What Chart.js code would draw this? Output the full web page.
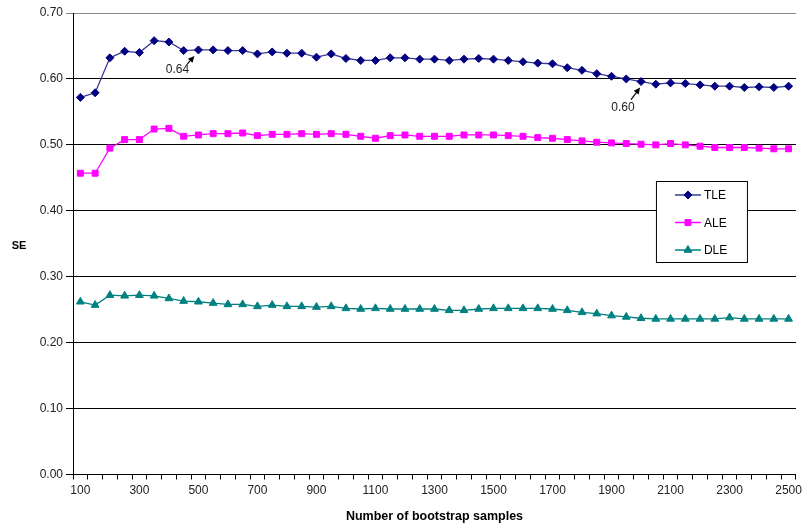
<!DOCTYPE html>
<html>
<head>
<meta charset="utf-8">
<script src="https://cdn.jsdelivr.net/npm/chart.js@4"></script>
<style>
  html, body { margin: 0; padding: 0; background: #fff; }
  #wrap { width: 806px; height: 524px; }
</style>
</head>
<body>
<div id="wrap"><canvas id="myChart" width="806" height="524"></canvas></div>
<script>
// bootstrap sample counts
const samples = [100, 150, 200, 250, 300, 350, 400, 450, 500, 550, 600, 650, 700, 750, 800, 850, 900, 950,
  1000, 1050, 1100, 1150, 1200, 1250, 1300, 1350, 1400, 1450, 1500, 1550, 1600, 1650, 1700, 1750, 1800,
  1850, 1900, 1950, 2000, 2050, 2100, 2150, 2200, 2250, 2300, 2350, 2400, 2450, 2500];

const tle = [0.572, 0.579, 0.632, 0.642, 0.640, 0.658, 0.656, 0.643, 0.644, 0.644, 0.643, 0.643, 0.638,
  0.641, 0.639, 0.639, 0.633, 0.638, 0.631, 0.628, 0.628, 0.632, 0.632, 0.630, 0.630, 0.628, 0.630,
  0.631, 0.630, 0.628, 0.626, 0.624, 0.623, 0.617, 0.613, 0.608, 0.604, 0.600, 0.596, 0.592, 0.594,
  0.593, 0.591, 0.589, 0.589, 0.587, 0.588, 0.587, 0.589];

const ale = [0.457, 0.457, 0.495, 0.508, 0.508, 0.524, 0.525, 0.513, 0.515, 0.517, 0.517, 0.518, 0.514,
  0.516, 0.516, 0.517, 0.516, 0.517, 0.516, 0.513, 0.510, 0.514, 0.515, 0.513, 0.513, 0.513, 0.515,
  0.515, 0.515, 0.514, 0.513, 0.511, 0.510, 0.508, 0.506, 0.504, 0.503, 0.502, 0.501, 0.500, 0.502,
  0.500, 0.498, 0.496, 0.496, 0.496, 0.495, 0.494, 0.494];

const dle = [0.262, 0.257, 0.272, 0.271, 0.272, 0.271, 0.267, 0.263, 0.262, 0.260, 0.258, 0.258, 0.255,
  0.257, 0.255, 0.255, 0.254, 0.255, 0.252, 0.251, 0.252, 0.251, 0.251, 0.251, 0.251, 0.249, 0.249,
  0.251, 0.252, 0.252, 0.252, 0.252, 0.251, 0.249, 0.246, 0.244, 0.241, 0.239, 0.237, 0.236, 0.236,
  0.236, 0.236, 0.236, 0.238, 0.236, 0.236, 0.236, 0.236];

// callouts: [label, sample index on TLE]
const callouts = [["0.64", 8], ["0.60", 38]];

const FONT = "'Liberation Sans', Arial, sans-serif";

// legend box drawn inside the plot, like the original
const boxLegend = {
  id: 'boxLegend',
  afterDraw(chart) {
    const ctx = chart.ctx;
    const area = chart.chartArea;
    const x = area.right - 140, y = area.top + 168, w = 91, h = 81;
    ctx.save();
    ctx.fillStyle = '#fff';
    ctx.fillRect(x, y, w, h);
    ctx.strokeStyle = '#000';
    ctx.lineWidth = 1;
    ctx.strokeRect(x + 0.5, y + 0.5, w, h);
    ctx.font = '12px ' + FONT;
    ctx.textBaseline = 'middle';
    chart.data.datasets.forEach((ds, i) => {
      const cy = y + 14 + i * 27.5;
      ctx.strokeStyle = ds.borderColor;
      ctx.lineWidth = 1.5;
      ctx.beginPath();
      ctx.moveTo(x + 19, cy);
      ctx.lineTo(x + 45, cy);
      ctx.stroke();
      ctx.fillStyle = ds.pointBackgroundColor;
      ctx.strokeStyle = ds.pointBorderColor;
      ctx.lineWidth = 1;
      Chart.helpers.drawPoint(ctx, {
        pointStyle: ds.pointStyle, radius: ds.pointRadius, rotation: 0, borderWidth: 1
      }, x + 32, cy);
      ctx.fillStyle = '#000';
      ctx.textAlign = 'left';
      ctx.fillText(ds.label, x + 48, cy + 1);
    });
    ctx.restore();
  }
};

// arrows + values, and the plain "SE" axis title
const extras = {
  id: 'extras',
  afterDatasetsDraw(chart) {
    const ctx = chart.ctx;
    const xs = chart.scales.x, ys = chart.scales.y;
    ctx.save();
    ctx.font = '12px ' + FONT;
    ctx.textAlign = 'center';
    ctx.textBaseline = 'middle';
    const offs = [
      { tip: [-4, 6], tail: [-11, 14], text: [-21, 20] },
      { tip: [-1, 6], tail: [-10, 18], text: [-18, 26] }
    ];
    callouts.forEach(([lbl, idx], k) => {
      const px = xs.getPixelForValue(idx);
      const py = ys.getPixelForValue(tle[idx]);
      const o = offs[k];
      const tx = px + o.tip[0], ty = py + o.tip[1];
      const sx = px + o.tail[0], sy = py + o.tail[1];
      const ang = Math.atan2(ty - sy, tx - sx);
      ctx.strokeStyle = '#000';
      ctx.fillStyle = '#000';
      ctx.lineWidth = 1.2;
      ctx.beginPath();
      ctx.moveTo(sx, sy);
      ctx.lineTo(tx - 4 * Math.cos(ang), ty - 4 * Math.sin(ang));
      ctx.stroke();
      ctx.beginPath();
      ctx.moveTo(tx, ty);
      ctx.lineTo(tx - 7 * Math.cos(ang - 0.45), ty - 7 * Math.sin(ang - 0.45));
      ctx.lineTo(tx - 7 * Math.cos(ang + 0.45), ty - 7 * Math.sin(ang + 0.45));
      ctx.closePath();
      ctx.fill();
      ctx.fillStyle = '#222';
      ctx.fillText(lbl, px + o.text[0], py + o.text[1]);
    });
    // y title
    ctx.font = 'bold 11px ' + FONT;
    ctx.fillStyle = '#000';
    ctx.fillText('SE', 19, (chart.chartArea.top + chart.chartArea.bottom) / 2 + 2);
    ctx.restore();
  }
};

new Chart(document.getElementById('myChart'), {
  type: 'line',
  data: {
    labels: samples,
    datasets: [
      {
        label: 'TLE', data: tle,
        borderColor: '#3b3b9a', borderWidth: 1.3,
        pointStyle: 'rectRot', pointRadius: 4,
        pointBackgroundColor: '#000080', pointBorderColor: '#000080', pointBorderWidth: 1
      },
      {
        label: 'ALE', data: ale,
        borderColor: '#ff00ff', borderWidth: 1.3,
        pointStyle: 'rect', pointRadius: 4.2,
        pointBackgroundColor: '#ff00ff', pointBorderColor: '#ff00ff', pointBorderWidth: 1
      },
      {
        label: 'DLE', data: dle,
        borderColor: '#008080', borderWidth: 1.3,
        pointStyle: 'triangle', pointRadius: 4.5,
        pointBackgroundColor: '#008080', pointBorderColor: '#008080', pointBorderWidth: 1
      }
    ]
  },
  options: {
    responsive: false,
    animation: false,
    devicePixelRatio: 1,
    layout: { padding: { left: 0, right: 8, top: 13, bottom: 0 } },
    plugins: {
      legend: { display: false },
      tooltip: { enabled: false }
    },
    elements: { line: { tension: 0 } },
    scales: {
      x: {
        type: 'category',
        offset: true,
        grid: {
          offset: true, drawOnChartArea: false, drawTicks: true,
          tickLength: 5, color: '#000'
        },
        border: { color: '#000', width: 1 },
        ticks: {
          autoSkip: false, maxRotation: 0, padding: 4,
          color: '#222', font: { family: FONT, size: 12 },
          callback: (v, i) => (i % 4 === 0 ? samples[i] : '')
        },
        title: {
          display: true, text: 'Number of bootstrap samples',
          color: '#000', font: { family: FONT, size: 12.5, weight: 'bold' },
          padding: { top: 4, bottom: 0 }
        },
        afterFit(scale) { scale.height = 49.5; }
      },
      y: {
        min: 0, max: 0.7,
        grid: {
          color: ctx => (ctx.tick && ctx.tick.value >= 0.7 ? '#888' : '#000'),
          tickLength: 7, lineWidth: 1
        },
        border: { color: '#000', width: 1 },
        ticks: {
          stepSize: 0.1, padding: 3,
          color: '#222', font: { family: FONT, size: 12 },
          callback: v => v.toFixed(2)
        },
        afterFit(scale) { scale.width = 73; }
      }
    }
  },
  plugins: [boxLegend, extras]
});
</script>
</body>
</html>
